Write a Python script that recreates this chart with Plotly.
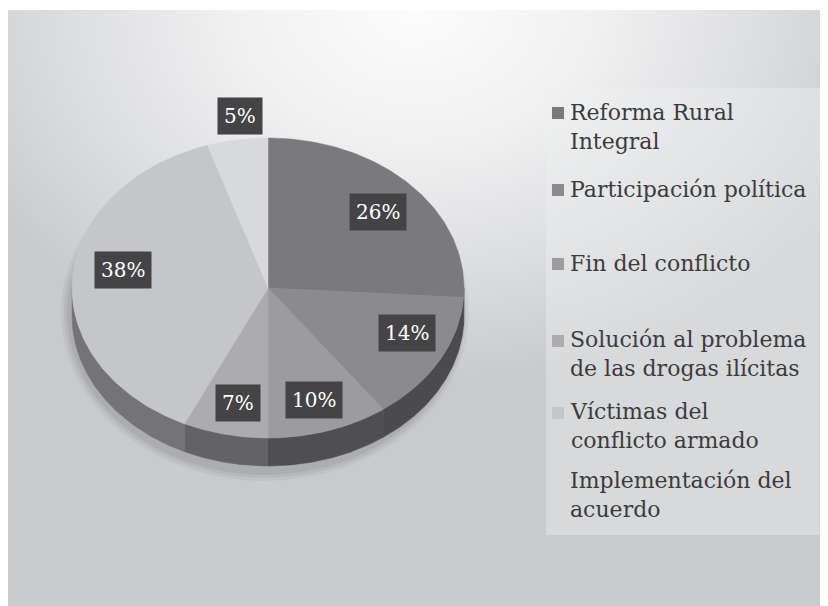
import base64
import numpy as np
import plotly.graph_objects as go

# ---------------- data ----------------
categories = [
    "Reforma Rural Integral",
    "Participación política",
    "Fin del conflicto",
    "Solución al problema de las drogas ilícitas",
    "Víctimas del conflicto armado",
    "Implementación del acuerdo",
]
legend_text = [
    "Reforma Rural<br>Integral",
    "Participación política",
    "Fin del conflicto",
    "Solución al problema<br>de las drogas ilícitas",
    "Víctimas del<br>conflicto armado",
    "Implementación del<br>acuerdo",
]
shares = [26, 14, 10, 7, 38, 5]

# ---------------- styles ----------------
top_colors = ["#7a7a7e", "#8b8b8f", "#9c9ca0", "#acacb0", "#c5c6c9", "#d8d9db"]
side_colors = ["#58585c", "#4b4b4f", "#4f4f53", "#636367", "#747478", "#8a8a8e"]

W, H = 828, 606
OFF = 8  # page body margin: axes are set so that data units == window pixels
CX, CY, RX, RY, DEPTH = 268, 288, 196, 150, 28

# label box centres (window pixels)
label_pos = [(378, 212), (407, 333), (314, 400), (238, 403), (123, 270), (240, 116)]
# legend entry centres (window pixel y) and first-line y for the swatch
legend_center_y = [127, 189, 263, 354, 426, 495]
legend_swatch_y = [112, 189, 263, 340, 412, 481]


def ell(theta_deg, dy=0.0):
    t = np.radians(theta_deg)
    return CX + RX * np.sin(t), CY - RY * np.cos(t) + dy


fig = go.Figure()

total = float(sum(shares))
bounds = np.concatenate([[0.0], np.cumsum(shares) / total * 360.0])

# side walls (front half only: 90..270 degrees clockwise from top)
for i, v in enumerate(shares):
    a, b = max(bounds[i], 90.0), min(bounds[i + 1], 270.0)
    if b <= a:
        continue
    th = np.linspace(a, b, 80)
    xt, yt = ell(th)
    xb, yb = ell(th[::-1], DEPTH)
    xs = np.concatenate([xt, xb, xt[:1]])
    ys = np.concatenate([yt, yb, yt[:1]])
    fig.add_trace(go.Scatter(x=xs, y=ys, mode="lines", fill="toself",
                             fillcolor=side_colors[i],
                             line=dict(color=side_colors[i], width=0.5),
                             hoverinfo="skip", showlegend=False))

# top surfaces
for i, v in enumerate(shares):
    th = np.linspace(bounds[i], bounds[i + 1], max(int(v * 4), 12))
    xa, ya = ell(th)
    xs = np.concatenate([[CX], xa, [CX]])
    ys = np.concatenate([[CY], ya, [CY]])
    fig.add_trace(go.Scatter(x=xs, y=ys, mode="lines", fill="toself",
                             fillcolor=top_colors[i],
                             line=dict(color=top_colors[i], width=0.5),
                             name=categories[i],
                             hovertemplate=f"{categories[i]}: {v}%<extra></extra>",
                             showlegend=False))

annotations = []
shapes = []

# data labels
for (lx, ly), v in zip(label_pos, shares):
    annotations.append(dict(x=lx, y=ly, xref="x", yref="y", text=f"{v}%",
                            showarrow=False, bgcolor="#444446",
                            font=dict(family="DejaVu Serif", size=20, color="white"),
                            borderpad=6))

# legend box
shapes.append(dict(type="rect", xref="x", yref="y", x0=546, x1=820, y0=88, y1=535,
                   fillcolor="rgba(238,239,240,0.4)", line=dict(width=0), layer="below"))

# legend entries
for i, txt in enumerate(legend_text):
    sy = legend_swatch_y[i]
    shapes.append(dict(type="rect", xref="x", yref="y", x0=552, x1=564,
                       y0=sy - 5, y1=sy + 7, fillcolor=top_colors[i],
                       line=dict(width=0)))
    annotations.append(dict(x=568, y=legend_center_y[i], xref="x", yref="y",
                            text=txt, showarrow=False, xanchor="left",
                            yanchor="middle", align="left",
                            font=dict(family="DejaVu Serif", size=22,
                                      color="#3c3c3e")))

# soft pie shadow (mostly below/left, as in the reference)
for k, alpha in enumerate([0.04, 0.05, 0.06]):
    g = 9 - 3 * k
    shapes.append(dict(type="circle", xref="x", yref="y",
                       x0=CX - RX - g - 2, x1=CX + RX + g - 4,
                       y0=CY - RY - g + 14, y1=CY + RY + DEPTH + g + 6,
                       fillcolor=f"rgba(0,0,0,{alpha})", line=dict(width=0),
                       layer="below"))

# gradient background as inline SVG
svg = (
    '<svg xmlns="http://www.w3.org/2000/svg" width="816" height="604" '
    'viewBox="0 0 816 604" preserveAspectRatio="none">'
    '<defs><radialGradient id="g" cx="0.5" cy="0.0" r="0.62">'
    '<stop offset="0" stop-color="#fcfcfc"/>'
    '<stop offset="0.35" stop-color="#f1f1f2"/>'
    '<stop offset="0.7" stop-color="#dcdddf"/>'
    '<stop offset="1" stop-color="#c9cacc"/>'
    '</radialGradient></defs>'
    '<rect width="816" height="604" fill="url(#g)"/></svg>'
)
src = "data:image/svg+xml;base64," + base64.b64encode(svg.encode()).decode()

fig.update_layout(
    width=W, height=H,
    margin=dict(l=0, r=0, t=0, b=0),
    paper_bgcolor="white",
    plot_bgcolor="rgba(0,0,0,0)",
    xaxis=dict(range=[OFF, W + OFF], visible=False, fixedrange=True),
    yaxis=dict(range=[H + OFF, OFF], visible=False, fixedrange=True),
    showlegend=False,
    annotations=annotations,
    shapes=shapes,
    images=[dict(source=src, xref="paper", yref="paper",
                 x=0, y=1 - 2 / H, sizex=814 / W, sizey=604 / H,
                 xanchor="left", yanchor="top", sizing="stretch",
                 layer="below")],
)

fig.write_html("out.html")
